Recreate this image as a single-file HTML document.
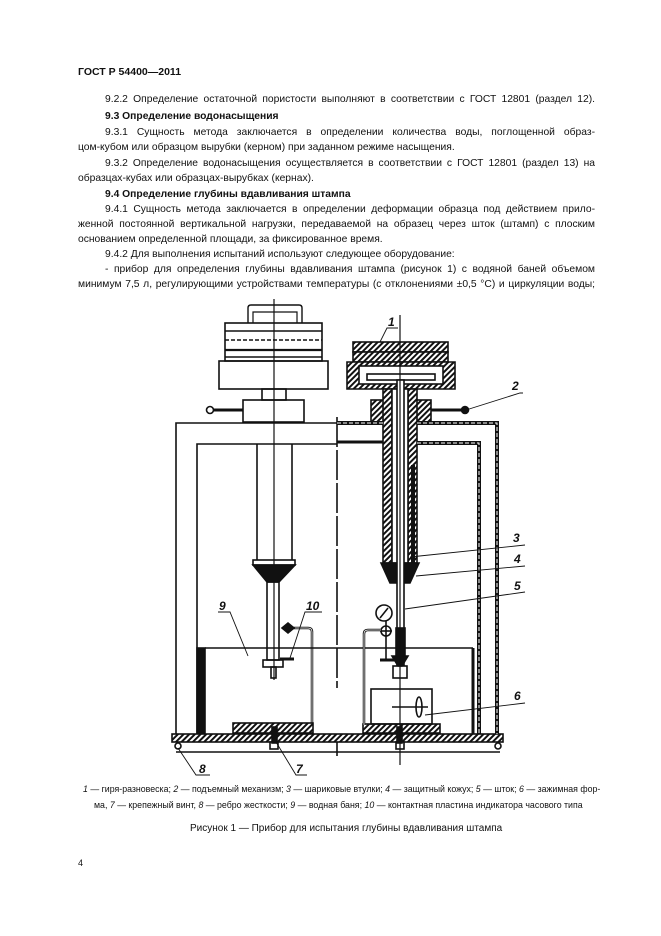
<!DOCTYPE html>
<html><head><meta charset="utf-8">
<style>
body{margin:0;background:#fff;}
#p{position:relative;width:661px;height:936px;overflow:hidden;background:#fff;font-family:"Liberation Sans",sans-serif;color:#111;}
.t{position:absolute;font-size:10.3px;line-height:12px;white-space:nowrap;}
.j{position:absolute;font-size:10.3px;line-height:12px;text-align:justify;text-align-last:justify;white-space:normal;}
.b{font-weight:bold;}
.c{position:absolute;font-size:8.8px;line-height:10px;white-space:nowrap;}
</style></head><body><div id="p">
<div class="t b" style="left:78px;top:66px;font-size:10.5px">ГОСТ Р 54400—2011</div>
<div class="j" style="left:105px;top:94px;width:490px">9.2.2 Определение остаточной пористости выполняют в соответствии с ГОСТ 12801 (раздел 12).</div>
<div class="t b" style="left:105px;top:111px">9.3 Определение водонасыщения</div>
<div class="j" style="left:105px;top:127px;width:490px">9.3.1 Сущность метода заключается в определении количества воды, поглощенной образ-</div>
<div class="t" style="left:78px;top:142px">цом-кубом или образцом вырубки (керном) при заданном режиме насыщения.</div>
<div class="j" style="left:105px;top:158px;width:490px">9.3.2 Определение водонасыщения осуществляется в соответствии с ГОСТ 12801 (раздел 13) на</div>
<div class="t" style="left:78px;top:173px">образцах-кубах или образцах-вырубках (кернах).</div>
<div class="t b" style="left:105px;top:189px">9.4 Определение глубины вдавливания штампа</div>
<div class="j" style="left:105px;top:204px;width:490px">9.4.1 Сущность метода заключается в определении деформации образца под действием прило-</div>
<div class="j" style="left:78px;top:219px;width:517px">женной постоянной вертикальной нагрузки, передаваемой на образец через шток (штамп) с плоским</div>
<div class="t" style="left:78px;top:234px">основанием определенной площади, за фиксированное время.</div>
<div class="t" style="left:105px;top:249px">9.4.2 Для выполнения испытаний используют следующее оборудование:</div>
<div class="j" style="left:105px;top:264px;width:490px">- прибор для определения глубины вдавливания штампа (рисунок 1) с водяной баней объемом</div>
<div class="j" style="left:78px;top:279px;width:517px">минимум 7,5 л, регулирующими устройствами температуры (с отклонениями ±0,5 °C) и циркуляции воды;</div>

<svg style="position:absolute;left:0;top:0" width="661" height="936" viewBox="0 0 661 936">
<defs>
<pattern id="h" width="4" height="4" patternUnits="userSpaceOnUse" patternTransform="rotate(45)">
<rect width="4" height="4" fill="#fff"/><rect width="2" height="4" fill="#111"/></pattern>
</defs>
<g fill="none" stroke="#111" stroke-width="1.6">
<path d="M248 323 V308 Q248 305 251 305 H299 Q302 305 302 308 V323" stroke-width="1.4"/>
<path d="M253 323 V312 H297 V323" stroke-width="1.2"/>
<rect x="225" y="323" width="97" height="38"/>
<line x1="225" y1="331" x2="322" y2="331"/>
<line x1="225" y1="340" x2="322" y2="340" stroke-dasharray="4 2"/>
<line x1="225" y1="350" x2="322" y2="350" stroke-width="2.2"/>
<line x1="225" y1="357" x2="322" y2="357"/>
<rect x="219" y="361" width="109" height="28"/>
<rect x="262" y="389" width="24" height="11"/>
<rect x="243" y="400" width="61" height="22"/>
<line x1="214" y1="410" x2="243" y2="410" stroke-width="3"/>
<circle cx="210" cy="410" r="3.5" fill="#fff"/>
<path d="M176 736 V423 H337"/>
<path d="M197 736 V444 H337"/>
<line x1="337" y1="417" x2="337" y2="688" stroke-dasharray="30 3"/>
<line x1="274" y1="299" x2="274" y2="680" stroke-width="1.2"/>
<line x1="257" y1="444" x2="257" y2="560"/><line x1="292" y1="444" x2="292" y2="560"/>
<rect x="253" y="560" width="42" height="5"/>
<path d="M253 565 L267 582 L279 582 L295 565 Z" fill="#111"/>
<rect x="267" y="582" width="12" height="78"/>
<rect x="263" y="660" width="20" height="7"/>
<rect x="271" y="667" width="5" height="11"/>
<path d="M283 628 H308 Q312 628 312 632 V725" stroke-width="2.5"/>
<path d="M283 628 H308 Q312 628 312 632 V725" stroke="#fff" stroke-width="0.8"/>
<path d="M282 628 l6 -5 l6 5 l-6 5 z" fill="#111"/>
<line x1="280" y1="659" x2="294" y2="659" stroke-width="3"/>
<line x1="205" y1="648" x2="473" y2="648"/>
<rect x="197" y="648" width="8" height="86" fill="#111"/>
<rect x="233" y="723" width="80" height="10" fill="url(#h)"/>
<rect x="363" y="724" width="77" height="9" fill="url(#h)"/>
<rect x="172" y="734" width="331" height="8" fill="url(#h)"/>
<line x1="176" y1="752" x2="500" y2="752"/>
<circle cx="178" cy="746" r="3" fill="#fff"/><circle cx="498" cy="746" r="3" fill="#fff"/>
<line x1="337" y1="742" x2="337" y2="756"/>
<rect x="270" y="742" width="8" height="7" fill="#fff"/>
<rect x="396" y="742" width="8" height="7" fill="#fff"/>
<rect x="272" y="727" width="5" height="16" fill="#111"/>
<rect x="397" y="727" width="5" height="16" fill="#111"/>
<rect x="353" y="342" width="95" height="10" fill="url(#h)"/>
<rect x="353" y="352" width="95" height="10" fill="url(#h)"/>
<path d="M347 362 H455 V389 H347 Z" fill="url(#h)"/>
<rect x="359" y="366" width="84" height="18" fill="#fff"/>
<rect x="367" y="374" width="68" height="6" fill="#fff"/>
<rect x="371" y="400" width="17" height="22" fill="url(#h)"/>
<rect x="414" y="400" width="17" height="22" fill="url(#h)"/>
<line x1="431" y1="410" x2="462" y2="410" stroke-width="3"/>
<circle cx="465" cy="410" r="3.5" fill="#111"/>
<rect x="383" y="389" width="9" height="174" fill="url(#h)"/>
<rect x="408" y="389" width="9" height="174" fill="url(#h)"/>
<rect x="392" y="389" width="16" height="174" fill="#fff"/>
<line x1="413" y1="465" x2="413" y2="563" stroke-width="4"/>
<path d="M381 563 H419 L410 583 H390 Z" fill="#111"/>
<rect x="397" y="380" width="7" height="285" fill="#fff"/>
<rect x="396" y="628" width="9" height="28" fill="#111"/>
<path d="M392 656 H408 L402 666 H398 Z" fill="#111"/>
<line x1="400" y1="315" x2="400" y2="765" stroke-width="1.2"/>
<line x1="337" y1="442" x2="383" y2="442" stroke-width="3"/>
<path d="M417 423 H497 V734" stroke-width="4"/>
<path d="M417 423 H497 V734" stroke="#fff" stroke-width="1" stroke-dasharray="4 2"/>
<path d="M337 423 H383" stroke-width="4"/><path d="M337 423 H383" stroke="#fff" stroke-width="1" stroke-dasharray="4 2"/>
<path d="M417 443 H479 V734" stroke-width="4"/>
<path d="M417 443 H479 V734" stroke="#fff" stroke-width="1" stroke-dasharray="4 2"/>
<path d="M473 648 V734" stroke-width="3"/>
<circle cx="384" cy="613" r="8" fill="#fff"/><line x1="380" y1="618" x2="388" y2="608"/>
<circle cx="386" cy="631" r="5" fill="#fff"/><line x1="380" y1="631" x2="392" y2="631"/><line x1="386" y1="621" x2="386" y2="660"/>
<path d="M381 630 H368 Q364 630 364 634 V725" stroke-width="2.5"/>
<path d="M381 630 H368 Q364 630 364 634 V725" stroke="#fff" stroke-width="0.8"/>
<path d="M380 660 H398" stroke-width="3"/>
<rect x="393" y="666" width="14" height="12"/>
<rect x="371" y="689" width="61" height="35"/>
<line x1="392" y1="707" x2="428" y2="707"/>
<ellipse cx="419" cy="707" rx="3" ry="10"/>
<g stroke-width="0.9">
<path d="M380 342 L387 328 H398"/>
<path d="M466 410 L520 393 H523"/>
<path d="M410 557 L525 545"/>
<path d="M416 576 L525 566"/>
<path d="M405 609 L525 592"/>
<path d="M425 715 L525 703"/>
<path d="M248 656 L230 612 H218"/>
<path d="M290 658 L305 612 H322"/>
<path d="M178 748 L196 775 H210"/>
<path d="M276 742 L296 775 H307"/>
</g>
</g>
<g font-family="Liberation Sans,sans-serif" font-size="12" font-weight="bold" font-style="italic" fill="#111">
<text x="388" y="326">1</text><text x="512" y="390">2</text><text x="513" y="542">3</text>
<text x="514" y="563">4</text><text x="514" y="590">5</text><text x="514" y="700">6</text>
<text x="296" y="773">7</text><text x="199" y="773">8</text><text x="219" y="610">9</text><text x="306" y="610">10</text>
</g>
</svg>
<div class="c" style="left:83px;top:784px"><i>1</i> — гиря-разновеска; <i>2</i> — подъемный механизм; <i>3</i> — шариковые втулки; <i>4</i> — защитный кожух; <i>5</i> — шток; <i>6</i> — зажимная фор-</div>
<div class="c" style="left:94px;top:800px">ма, <i>7</i> — крепежный винт, <i>8</i> — ребро жесткости; <i>9</i> — водная баня; <i>10</i> — контактная пластина индикатора часового типа</div>
<div class="t" style="left:190px;top:823px;font-size:10px">Рисунок 1 — Прибор для испытания глубины вдавливания штампа</div>
<div class="t" style="left:78px;top:857px;font-size:9px">4</div>
</div></body></html>
